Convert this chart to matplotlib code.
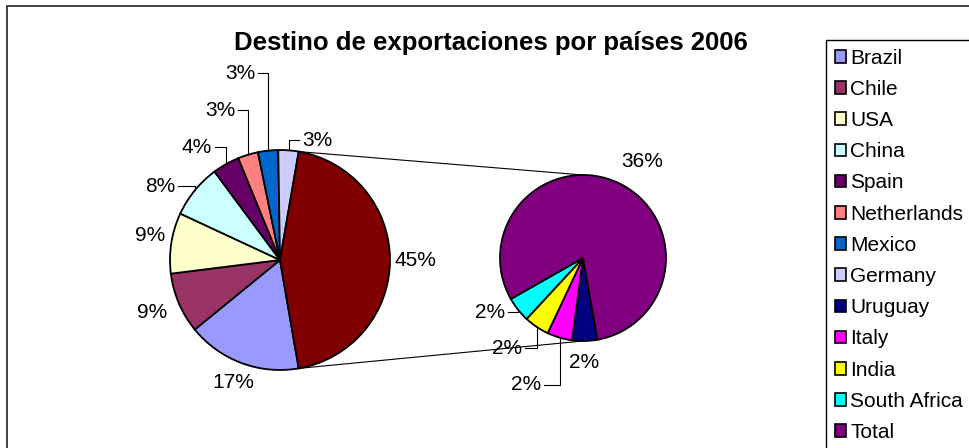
import matplotlib
matplotlib.use('Agg')
import matplotlib.pyplot as plt
import matplotlib.patches as mpatches
import numpy as np

plt.rcParams['font.family'] = ['Liberation Sans', 'DejaVu Sans']

# datos (porcentaje del total)
countries = ['Brazil', 'Chile', 'USA', 'China', 'Spain', 'Netherlands', 'Mexico', 'Germany']
main_values = [17, 9, 9, 8, 4, 3, 3, 3]
main_colors = ['#9999FF', '#993366', '#FFFFCC', '#CCFFFF', '#660066', '#FF8080', '#0066CC', '#CCCCFF']
other_color = '#800000'

second_names = ['Uruguay', 'Italy', 'India', 'South Africa', 'Total']
second_values = [2.2, 2.2, 2.2, 2.2, 36.2]
second_colors = ['#000080', '#FF00FF', '#FFFF00', '#00FFFF', '#800080']

title = 'Destino de exportaciones por países 2006'

W, H = 970, 448

# layout (pixeles, origen arriba-izquierda)
c1, r1 = (280, 260), 110
c2, r2 = (583, 258), 83
# posiciones de etiquetas relativas al centro; el tercer campo = lado de la linea guia
main_lab = [(-47, 123, None), (-128, 53, None), (-130, -25, None), (-120, -74, 'r'),
            (-83, -113, 'r'), (-60, -150, 'r'), (-40, -187, 'r'), (37, -120, 'l'),
            (135, 0, None)]
second_lab = [(1, 104, None), (-57, 127, 'r'), (-76, 90, 'r'), (-93, 54, 'r'), (59, -97, None)]

fig = plt.figure(figsize=(W / 100, H / 100), dpi=100)
fig.patch.set_facecolor('white')
ax = fig.add_axes([0, 0, 1, 1])


def P(x, y):
    return x, H - y


vals1 = main_values + [sum(second_values)]
cols1 = main_colors + [other_color]
frac_other = vals1[-1] / sum(vals1)
start1 = -frac_other * 180
ax.pie(vals1, colors=cols1, startangle=start1, counterclock=False,
       center=P(*c1), radius=r1, wedgeprops={'edgecolor': 'black', 'linewidth': 1.3})

start2 = -80
ax.pie(second_values, colors=second_colors, startangle=start2, counterclock=False,
       center=P(*c2), radius=r2, wedgeprops={'edgecolor': 'black', 'linewidth': 1.3})

ax.set_xlim(0, W)
ax.set_ylim(0, H)
ax.set_aspect('equal')
ax.axis('off')


def mid_angles(values, start):
    tot = sum(values)
    acc = 0
    out = []
    for v in values:
        a = start - (acc + v / 2) / tot * 360
        out.append(np.deg2rad(a))
        acc += v
    return out


def put_labels(values, labs, center, r, start):
    for v, (dx, dy, side), a in zip(values, labs, mid_angles(values, start)):
        tx, ty = center[0] + dx, center[1] + dy
        ax.text(*P(tx, ty), f'{round(v)}%', ha='center', va='center', fontsize=15)
        if side:
            ex = center[0] + r * np.cos(a)
            ey = center[1] - r * np.sin(a)
            half = 16
            sx = tx + half + 2 if side == 'r' else tx - half - 2
            xs = [sx, ex, ex]
            ys = [ty, ty, ey]
            ax.plot(*zip(*[P(x, y) for x, y in zip(xs, ys)]), color='black', lw=0.8)


put_labels(vals1, main_lab, c1, r1, start1)
put_labels(second_values, second_lab, c2, r2, start2)

# lineas de union entre las tartas
a_top = np.deg2rad(frac_other * 180)
for sgn in (1, -1):
    x0 = c1[0] + r1 * np.cos(a_top)
    y0 = c1[1] - sgn * r1 * np.sin(a_top)
    x1, y1 = c2[0], c2[1] - sgn * r2
    ax.plot(*zip(P(x0, y0), P(x1, y1)), color='black', lw=0.8)

ax.text(*P(491, 43), title, ha='center', va='center', fontsize=18.5, fontweight='bold')

# borde del area del grafico
ax.add_patch(mpatches.Rectangle((7, -20), W, H + 20 - 6, fill=False,
                                edgecolor='#202020', lw=1.2))

# leyenda
handles = [mpatches.Patch(facecolor=c, edgecolor='black', linewidth=1.2)
           for c in main_colors + second_colors]
labels = countries + second_names
leg = ax.legend(handles, labels, loc='upper left', bbox_to_anchor=(826 / W, 1 - 40 / H),
                bbox_transform=fig.transFigure, fontsize=15, frameon=True, fancybox=False,
                edgecolor='black', handlelength=0.55, handleheight=0.55, handletextpad=0.2,
                labelspacing=0.585, borderpad=0.42, borderaxespad=0, framealpha=1)
leg.get_frame().set_linewidth(1.0)

fig.savefig('out.png', dpi=100, facecolor='white')
